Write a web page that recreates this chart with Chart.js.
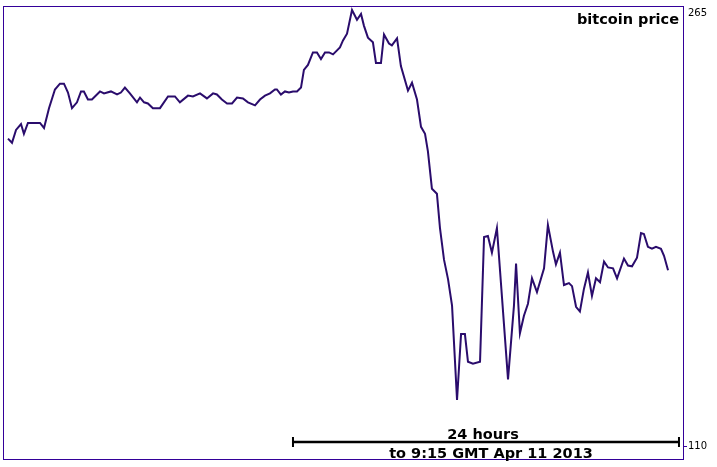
<!DOCTYPE html>
<html>
<head>
<meta charset="utf-8">
<script src="https://cdn.jsdelivr.net/npm/chart.js@4/dist/chart.umd.min.js"></script>
<style>
    html, body { margin: 0; padding: 0; background: #fff; }
    #wrap { width: 717px; height: 467px; }
</style>
</head>
<body>
<div id="wrap"><canvas id="btcChart"></canvas></div>
<script>
// hours before 9:15 GMT Apr 11 2013
const hoursAgo = [
    -41.72, -41.47, -41.22, -40.91, -40.73, -40.48, -39.73, -39.48, -39.17, -38.80,
    -38.49, -38.24, -37.99, -37.74, -37.43, -37.18, -37.00, -36.75, -36.50, -36.00,
    -35.75, -35.32, -34.94, -34.70, -34.45, -34.14, -33.70, -33.51, -33.26, -33.02,
    -32.71, -32.27, -31.77, -31.34, -31.03, -30.53, -30.22, -29.78, -29.35, -28.97,
    -28.73, -28.42, -28.10, -27.79, -27.48, -27.11, -26.80, -26.36, -26.05, -25.74,
    -25.43, -25.12, -25.00, -24.75, -24.50, -24.25, -24.00, -23.75, -23.50, -23.32,
    -23.07, -22.76, -22.51, -22.26, -22.01, -21.76, -21.51, -21.08, -20.89, -20.64,
    -20.33, -20.02, -19.77, -19.59, -19.34, -19.03, -18.84, -18.53, -18.34, -18.03,
    -17.85, -17.53, -17.29, -16.85, -16.60, -16.29, -16.04, -15.79, -15.61, -15.36,
    -15.05, -14.86, -14.61, -14.36, -14.11, -13.80, -13.55, -13.31, -13.12, -12.81,
    -12.37, -12.12, -11.88, -11.63, -11.32, -10.63, -10.26, -10.13, -9.89, -9.64,
    -9.39, -9.14, -8.83, -8.39, -8.15, -7.83, -7.65, -7.40, -7.15, -6.84,
    -6.65, -6.40, -6.16, -5.91, -5.66, -5.41, -5.16, -4.91, -4.66, -4.41,
    -4.10, -3.85, -3.42, -3.17, -2.92, -2.61, -2.36, -2.18, -1.93, -1.68,
    -1.43, -1.12, -0.93, -0.68
];

// USD
const price = [
    220.3, 218.8, 223.4, 225.5, 222.0, 225.9, 225.9, 224.1, 231.2, 237.9,
    240.0, 240.0, 236.8, 231.2, 233.3, 237.2, 237.2, 234.3, 234.3, 237.2,
    236.5, 237.2, 236.1, 236.8, 238.6, 236.5, 233.3, 235.0, 233.3, 232.9,
    231.2, 231.2, 235.4, 235.4, 233.3, 235.7, 235.4, 236.5, 234.7, 236.5,
    236.1, 234.3, 232.9, 232.9, 235.0, 234.7, 233.3, 232.2, 234.3, 235.7,
    236.5, 237.9, 237.9, 236.1, 237.2, 236.8, 237.2, 237.2, 238.6, 244.9,
    246.7, 251.2, 251.2, 248.8, 251.2, 251.2, 250.5, 253.0, 255.5, 257.9,
    266.4, 262.9, 265.0, 260.8, 256.5, 254.8, 247.4, 247.4, 257.6, 254.4,
    253.7, 256.2, 246.3, 237.5, 240.3, 234.3, 224.5, 222.0, 215.7, 202.3,
    200.5, 188.2, 176.9, 169.9, 160.4, 126.6, 150.2, 150.2, 140.3, 139.6,
    140.3, 185.0, 185.4, 179.4, 188.2, 134.0, 160.4, 175.5, 150.5, 156.8,
    161.1, 170.2, 165.3, 173.8, 189.3, 179.7, 175.2, 179.4, 167.8, 168.5,
    167.4, 160.0, 158.3, 166.4, 172.3, 163.9, 170.2, 168.8, 176.2, 174.1,
    173.8, 170.2, 177.3, 174.8, 174.5, 177.6, 186.4, 186.1, 181.5, 180.8,
    181.5, 180.8, 178.3, 173.1
];

const yTicks = [110, 265];
const spanHours = 24;
const spanLabel = "24 hours";
const endLabel = "to 9:15 GMT Apr 11 2013";
const chartTitle = "bitcoin price";

const frameColor = "#330099";
const lineColor = "#2a0c6c";

const points = hoursAgo.map((h, i) => ({ x: h, y: price[i] }));

const framePlugin = {
    id: "frame",
    afterDraw(chart) {
        const ctx = chart.ctx;
        const a = chart.chartArea;
        const xs = chart.scales.x;
        ctx.save();
        // crisp 1px frame
        ctx.strokeStyle = frameColor;
        ctx.lineWidth = 1;
        ctx.strokeRect(a.left + 0.5, a.top - 0.5, a.right - a.left, a.bottom - a.top);

        // title
        ctx.fillStyle = "#000";
        ctx.font = "bold 14.5px 'DejaVu Sans'";
        ctx.textAlign = "right";
        ctx.textBaseline = "alphabetic";
        ctx.fillText(chartTitle, a.right - 4, a.top + 17);

        // 24 hour span bar
        const x0 = xs.getPixelForValue(-spanHours);
        const x1 = xs.getPixelForValue(0);
        const mid = (x0 + x1) / 2;
        const yb = 442;
        ctx.strokeStyle = "#000";
        ctx.lineWidth = 2.5;
        ctx.beginPath();
        ctx.moveTo(x0, yb); ctx.lineTo(x1, yb);
        ctx.stroke();
        ctx.lineWidth = 2;
        ctx.beginPath();
        ctx.moveTo(x0, yb - 5); ctx.lineTo(x0, yb + 5);
        ctx.moveTo(x1, yb - 5); ctx.lineTo(x1, yb + 5);
        ctx.stroke();

        ctx.textAlign = "center";
        ctx.font = "bold 14.5px 'DejaVu Sans'";
        ctx.fillText(spanLabel, mid - 3, yb - 3);
        ctx.fillText(endLabel, mid + 5, yb + 16);
        ctx.restore();
    }
};

new Chart(document.getElementById("btcChart"), {
    type: "line",
    data: {
        datasets: [{
            data: points,
            borderColor: lineColor,
            borderWidth: 2,
            pointRadius: 0,
            tension: 0,
            fill: false
        }]
    },
    options: {
        responsive: true,
        maintainAspectRatio: false,
        animation: false,
        layout: { padding: { top: 3, left: 3, bottom: 3, right: 0 } },
        plugins: {
            legend: { display: false },
            tooltip: { enabled: false }
        },
        scales: {
            x: {
                type: "linear",
                display: false,
                min: -42.03,
                max: 0.25
            },
            y: {
                position: "right",
                min: 105.07,
                max: 267.47,
                afterBuildTicks: axis => {
                    axis.ticks = yTicks.map(v => ({ value: v }));
                },
                afterFit: axis => { axis.width = 34; },
                border: { display: false },
                grid: {
                    drawOnChartArea: false,
                    drawTicks: true,
                    tickLength: 4,
                    color: ctx => (ctx.tick && ctx.tick.value === 110 ? frameColor : "rgba(0,0,0,0)"),
                    lineWidth: 1
                },
                ticks: {
                    padding: 1,
                    color: "#000",
                    font: { family: "DejaVu Sans", size: 10 },
                    callback: v => v
                }
            }
        }
    },
    plugins: [framePlugin]
});
</script>
</body>
</html>
